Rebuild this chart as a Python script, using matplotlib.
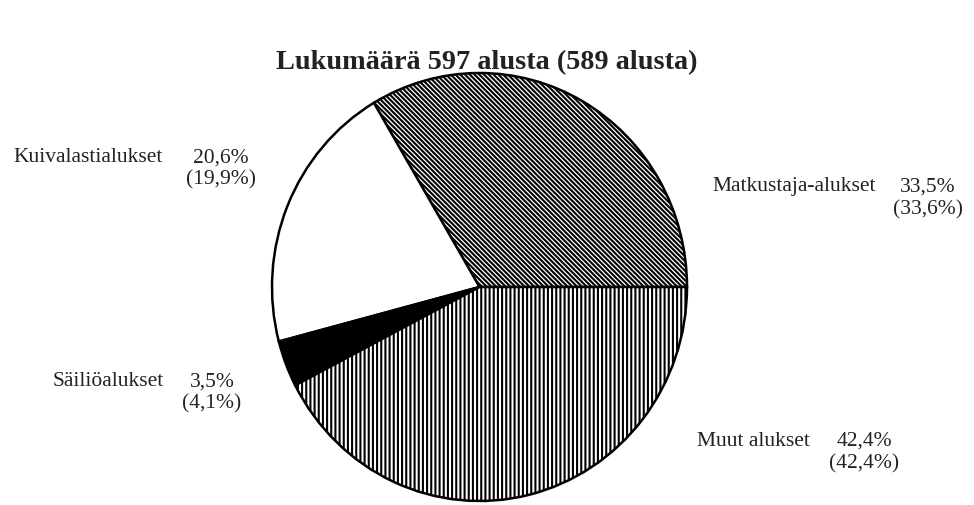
import matplotlib
matplotlib.use("Agg")
import matplotlib.pyplot as plt

categories = ["Matkustaja-alukset", "Kuivalastialukset", "Säiliöalukset", "Muut alukset"]
share_now = [33.5, 20.6, 3.5, 42.4]
share_prev = [33.6, 19.9, 4.1, 42.4]
title = "Lukumäärä 597 alusta (589 alusta)"

plt.rcParams["font.family"] = ["Liberation Serif", "DejaVu Serif"]
plt.rcParams["hatch.linewidth"] = 1.5
plt.rcParams["hatch.color"] = "black"

W, H = 974, 505
fig = plt.figure(figsize=(W / 100, H / 100), dpi=100)
fig.patch.set_facecolor("white")

# axes box exactly covering the pie (pixel extents from the reference)
x0, x1, y0, y1 = 272, 687, 73, 501
ax = fig.add_axes([x0 / W, 1 - y1 / H, (x1 - x0) / W, (y1 - y0) / H])
ax.axis("off")

faces = ["white", "white", "black", "white"]
hatches = ["\\" * 7, None, None, "|" * 4]
wedges, _ = ax.pie(share_now, startangle=0, counterclock=True, radius=1,
                   colors=faces,
                   wedgeprops=dict(edgecolor="black", linewidth=1.8))
for w, h in zip(wedges, hatches):
    if h:
        w.set_hatch(h)
ax.set_xlim(-1, 1)
ax.set_ylim(-1, 1)
ax.set_aspect("auto")

def fmt(v):
    return f"{v:.1f}".replace(".", ",") + "%"

fig.text(487 / W, 1 - 63 / H, title, ha="center", va="center",
         fontsize=20.3, fontweight="bold", color="#222222")

# label positions in pixels: (name_left_x, name_y, pct_center_x, line2_y)
pos = [
    (712, 187, 928, 210),
    (13, 158, 221, 180),
    (53, 382, 212, 404),
    (697, 441, 864, 464),
]
fs = 15.5
for cat, now, prev, (nx, ny, px, py) in zip(categories, share_now, share_prev, pos):
    fig.text(nx / W, 1 - ny / H, cat, ha="left", va="center", fontsize=fs, color="#222222")
    fig.text(px / W, 1 - ny / H, fmt(now), ha="center", va="center", fontsize=fs, color="#222222")
    fig.text(px / W, 1 - py / H, "(" + fmt(prev) + ")", ha="center", va="center",
             fontsize=fs, color="#222222")

fig.savefig("out.png", dpi=100, facecolor="white")
